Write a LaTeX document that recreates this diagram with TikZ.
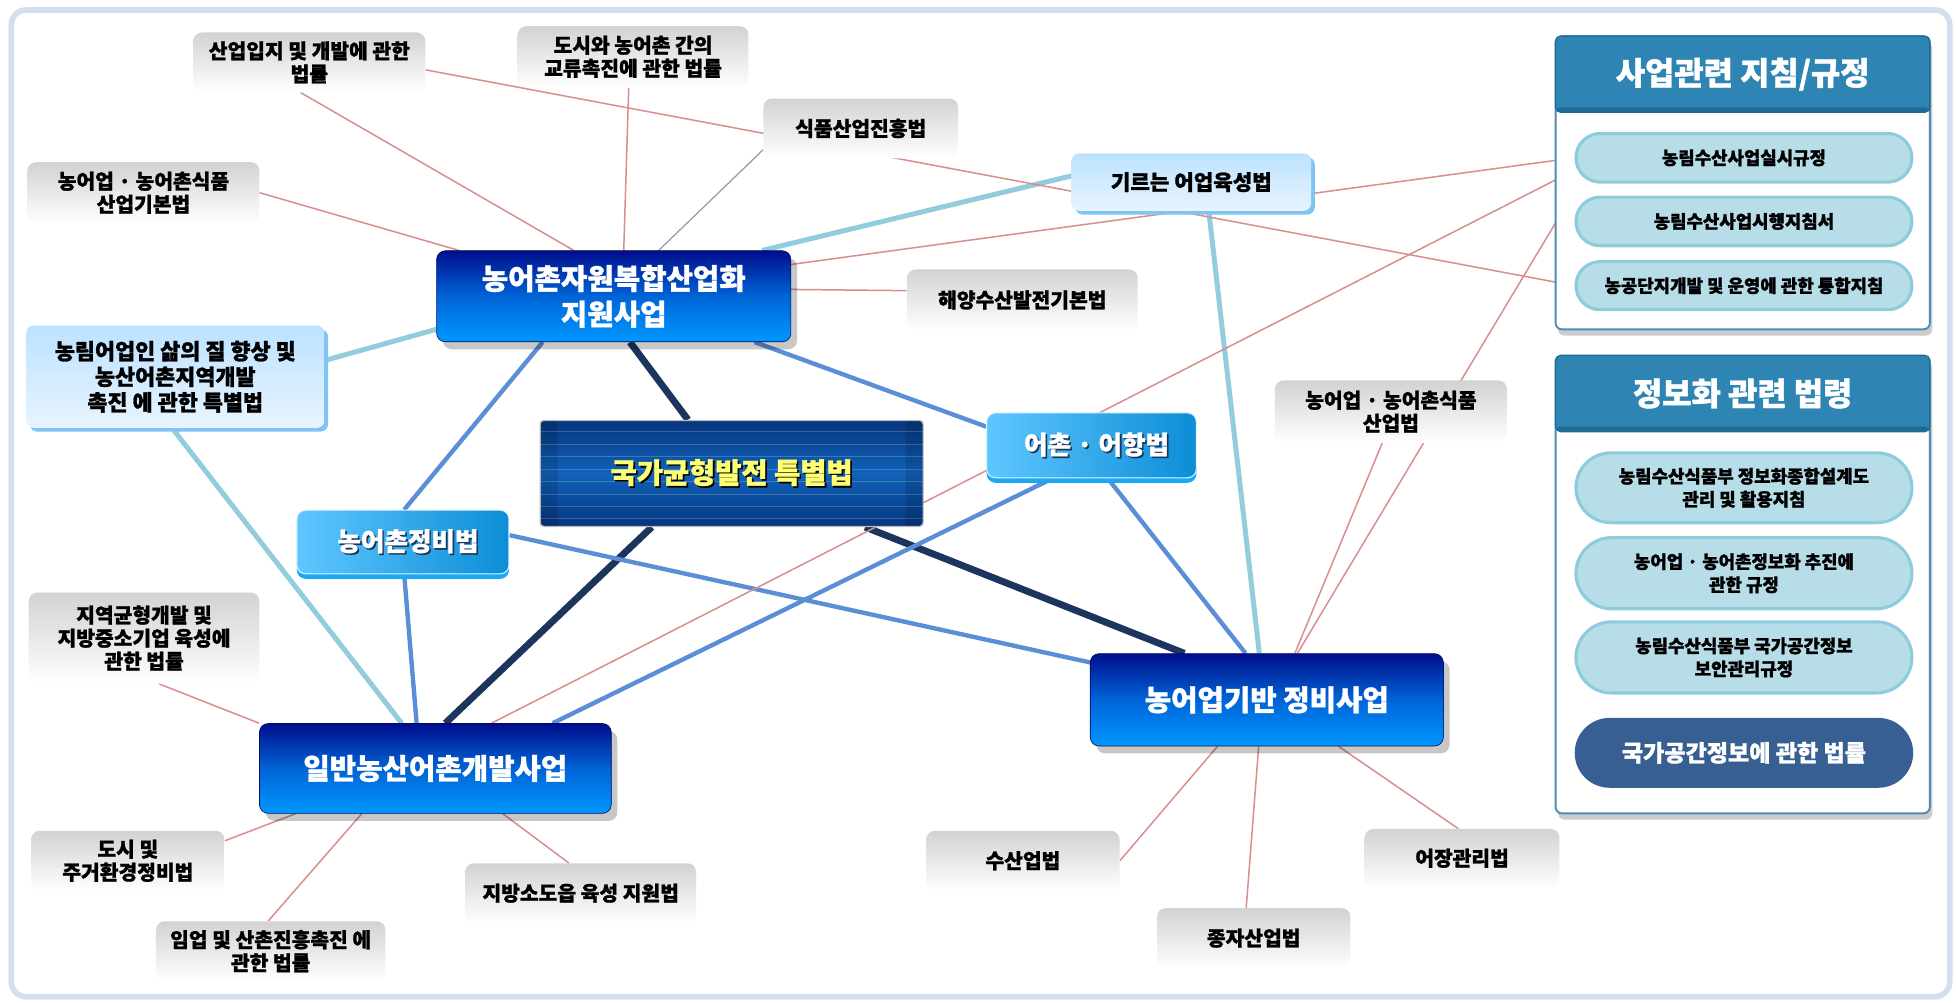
\documentclass[tikz,border=0pt]{standalone}
\usepackage{fontspec}
\newfontfamily\kr{Noto Sans CJK KR}[BoldFeatures={FakeBold=1.2}]
\usetikzlibrary{shadows,shapes.misc,calc}
\pgfdeclarelayer{bg}
\pgfdeclarelayer{lines}
\pgfsetlayers{bg,lines,main}
\definecolor{cFrame}{HTML}{D3DFEE}
\definecolor{cGrayTop}{HTML}{D2D2D2}
\definecolor{cNavyTop}{HTML}{000E8C}
\definecolor{cBlueMid}{HTML}{0064D6}
\definecolor{cBlueBot}{HTML}{0098FF}
\definecolor{cCenterDark}{HTML}{06357E}
\definecolor{cCenterMid}{HTML}{1062BA}
\definecolor{cYellow}{HTML}{FFFF73}
\definecolor{cBLeft}{HTML}{5FC7FF}
\definecolor{cBRight}{HTML}{0C8DD6}
\definecolor{cBLip}{HTML}{1AA8F2}
\definecolor{cLTop}{HTML}{BCE2FF}
\definecolor{cLBot}{HTML}{E8F4FF}
\definecolor{cLLip}{HTML}{80C4F4}
\definecolor{cHead}{HTML}{2E85B3}
\definecolor{cHeadDark}{HTML}{1F6B95}
\definecolor{cPanelBorder}{HTML}{4C8DB6}
\definecolor{cPill}{HTML}{B7DDE8}
\definecolor{cPillBorder}{HTML}{8ECBDD}
\definecolor{cDarkPill}{HTML}{385F91}
\definecolor{cNavyLine}{HTML}{1C355E}
\definecolor{cMidLine}{HTML}{5A8ED6}
\definecolor{cLightLine}{HTML}{93CCDC}
\definecolor{cPink}{HTML}{D98D8D}
\definecolor{cGrayLine}{HTML}{9C9C9C}
\newcommand\shadowtxt[3]{\leavevmode\rlap{\hspace{1.3pt}\raisebox{-1.3pt}{\textcolor{#2}{#1}}}\textcolor{#3}{#1}}
\begin{document}
\begin{tikzpicture}[x=1pt,y=-1pt,
  graybox/.style={rounded corners=7pt, top color=cGrayTop, bottom color=white, draw=none,
    align=center, inner sep=2pt, font=\kr\bfseries\fontsize{16.3}{18.5}\selectfont},
  mainbox/.style={rounded corners=7pt, top color=cNavyTop, bottom color=cBlueBot, middle color=cBlueMid,
    draw=cNavyTop!70!black, line width=0.5pt, text=white, align=center,
    font=\kr\bfseries\fontsize{23}{28.5}\selectfont,
    drop shadow={opacity=0.22, fill=black, shadow xshift=5pt, shadow yshift=-6pt}},
  centerbox/.style={rounded corners=3pt, top color=cCenterDark, bottom color=cCenterDark, middle color=cCenterMid,
    draw=gray!55, line width=1pt, align=center, font=\kr\bfseries\fontsize{22.8}{26}\selectfont},
  bluebox/.style={rounded corners=7pt, left color=cBLeft, right color=cBRight, draw=white!80!cBLeft, line width=0.8pt,
    text=white, align=center, font=\kr\bfseries\fontsize{20.5}{24}\selectfont,
    drop shadow={opacity=1, fill=cBLip, shadow xshift=0pt, shadow yshift=-4pt}},
  litebox/.style={rounded corners=6pt, top color=cLTop, bottom color=cLBot, draw=none,
    align=center, font=\kr\bfseries\fontsize{17.5}{20.5}\selectfont,
    drop shadow={opacity=1, fill=cLLip, shadow xshift=3pt, shadow yshift=-3pt}},
  panelbody/.style={rounded corners=5pt, fill=white, draw=cPanelBorder, line width=1.5pt,
    drop shadow={opacity=0.2, fill=black, shadow xshift=2pt, shadow yshift=-5pt}},
  panelhead/.style={rounded corners=4pt, fill=cHead, draw=cHeadDark, line width=1pt, text=white,
    font=\kr\bfseries\fontsize{25.5}{30}\selectfont,
    path picture={\fill[cHeadDark] ([yshift=4pt]path picture bounding box.south west) rectangle (path picture bounding box.south east);}},
  pill/.style={rounded rectangle, fill=cPill, draw=cPillBorder, line width=2.5pt, minimum width=276pt,
    align=center, font=\kr\bfseries\fontsize{14.3}{18.5}\selectfont},
  darkpill/.style={rounded rectangle, fill=cDarkPill, draw=cDarkPill, line width=1pt, minimum width=277pt,
    text=white, align=center, font=\kr\bfseries\fontsize{18.5}{22}\selectfont},
  navyline/.style={draw=cNavyLine, line width=5.5pt},
  midline/.style={draw=cMidLine, line width=3.5pt},
  lightline/.style={draw=cLightLine, line width=4pt},
  pinkline/.style={draw=cPink, line width=1.2pt},
  grayline/.style={draw=cGrayLine, line width=1pt}
]
\useasboundingbox (0,0) rectangle (1568,804);
\begin{pgfonlayer}{bg}
  \fill[white] (0,0) rectangle (1568,804);
  \draw[cFrame, line width=4.5pt, rounded corners=12pt] (9,8) rectangle (1563,799);
\end{pgfonlayer}

% gray label boxes
\node[graybox, minimum width=186pt, minimum height=48pt] (G1) at (248,50) {산업입지 및 개발에 관한\\법률};
\node[graybox, minimum width=185pt, minimum height=49pt] (G2) at (507.5,45.5) {도시와 농어촌 간의\\교류촉진에 관한 법률};
\node[graybox, minimum width=156pt, minimum height=48pt] (G3) at (690,103) {식품산업진흥법};
\node[graybox, minimum width=186pt, minimum height=49pt] (G4) at (115,154.5) {농어업 · 농어촌식품\\산업기본법};
\node[graybox, minimum width=185pt, minimum height=49pt] (G5) at (819.5,240.5) {해양수산발전기본법};
\node[graybox, minimum width=186pt, minimum height=50pt] (G6) at (1115,330) {농어업 · 농어촌식품\\산업법};
\node[graybox, minimum width=185pt, minimum height=73pt] (G7) at (115.5,511.5) {지역균형개발 및\\지방중소기업 육성에\\관한 법률};
\node[graybox, minimum width=155pt, minimum height=48pt] (G8) at (102.5,690) {도시 및\\주거환경정비법};
\node[graybox, minimum width=185pt, minimum height=48pt] (G9) at (465.5,716) {지방소도읍 육성 지원법};
\node[graybox, minimum width=184pt, minimum height=48pt] (G10) at (217,762.5) {임업 및 산촌진흥촉진 에\\관한 법률};
\node[graybox, minimum width=155pt, minimum height=48pt] (G11) at (820,690) {수산업법};
\node[graybox, minimum width=156pt, minimum height=47pt] (G12) at (1172,688) {어장관리법};
\node[graybox, minimum width=155pt, minimum height=48pt] (G13) at (1005,752) {종자산업법};

% main boxes
\node[mainbox, minimum width=284pt, minimum height=73pt] (M1) at (492,237.5) {농어촌자원복합산업화\\지원사업};
\node[mainbox, minimum width=282pt, minimum height=72pt] (M2) at (349,616) {일반농산어촌개발사업};
\node[mainbox, minimum width=283pt, minimum height=74pt] (M3) at (1015.5,561) {농어업기반 정비사업};

% centre box
\node[centerbox, minimum width=307pt, minimum height=85pt, path picture={
    \foreach \k in {9,19,...,79}
      \draw[white, opacity=0.2, line width=0.8pt] ([yshift=-\k*1pt]path picture bounding box.north west) -- ([yshift=-\k*1pt]path picture bounding box.north east);
    \fill[black, opacity=0.12] (path picture bounding box.north west) rectangle ([xshift=14pt]path picture bounding box.south west);
    \fill[black, opacity=0.12] ([xshift=-14pt]path picture bounding box.north east) rectangle (path picture bounding box.south east);
  }] (C) at (586.5,379.5) {\shadowtxt{국가균형발전 특별법}{black}{cYellow}};

% blue boxes
\node[bluebox, minimum width=170pt, minimum height=51pt] (B1) at (323,434.5) {\hspace*{8pt}\shadowtxt{농어촌정비법}{cNavyLine}{white}};
\node[bluebox, minimum width=168pt, minimum height=52pt] (B2) at (875,357) {\hspace*{8pt}\shadowtxt{어촌 · 어항법}{cNavyLine}{white}};

% light boxes
\node[litebox, minimum width=239pt, minimum height=82pt] (L1) at (140.5,302) {농림어업인 삶의 질 향상 및\\농산어촌지역개발\\촉진 에 관한 특별법};
\node[litebox, minimum width=192pt, minimum height=46pt, font=\kr\bfseries\fontsize{17}{20}\selectfont] (L2) at (955,146) {기르는 어업육성법};

% right panels
\node[panelbody, minimum width=300pt, minimum height=235pt] (P1) at (1397,146.5) {};
\node[panelhead, minimum width=300pt, minimum height=61pt] (H1) at (1397,59.5) {사업관련 지침/규정};
\node[pill, minimum height=39pt] (I1) at (1398,126.5) {농림수산사업실시규정};
\node[pill, minimum height=39pt] (I2) at (1398,177.5) {농림수산사업시행지침서};
\node[pill, minimum height=38.5pt] (I3) at (1398,229) {농공단지개발 및 운영에 관한 통합지침};

\node[panelbody, minimum width=300pt, minimum height=367pt] (P2) at (1397,468.5) {};
\node[panelhead, minimum width=300pt, minimum height=61pt] (H2) at (1397,315.5) {정보화 관련 법령};
\node[pill, minimum height=56pt] (J1) at (1398,391) {농림수산식품부 정보화종합설계도\\관리 및 활용지침};
\node[pill, minimum height=57pt] (J2) at (1398,459.5) {농어업 · 농어촌정보화 추진에\\관한 규정};
\node[pill, minimum height=57pt] (J3) at (1398,527) {농림수산식품부 국가공간정보\\보안관리규정};
\node[darkpill, minimum height=55pt] (J4) at (1398,603.5) {국가공간정보에 관한 법률};

% connectors
\begin{pgfonlayer}{lines}
  \draw[navyline] ([xshift=-35pt]C.north) -- ([xshift=13pt]M1.south);
  \draw[navyline] ([xshift=-64pt]C.south) -- ([xshift=8pt]M2.north);
  \draw[navyline] ([xshift=107pt]C.south) -- ([xshift=-66pt]M3.north);
  \draw[midline] ([xshift=-57pt]M1.south) -- ([xshift=1pt]B1.north);
  \draw[midline] ([xshift=1pt]B1.south) -- ([xshift=-15pt]M2.north);
  \draw[midline] ([xshift=113pt]M1.south) -- ([yshift=15pt]B2.west);
  \draw[midline] ([xshift=-31pt]B2.south) -- ([xshift=94pt]M2.north);
  \draw[midline] ([xshift=13pt]B2.south) -- ([xshift=-17pt]M3.north);
  \draw[midline] ([yshift=5.5pt]B1.east) -- ([yshift=30pt]M3.west);
  \draw[lightline] ([yshift=13pt]L1.east) -- ([yshift=-26.5pt]M1.west);
  \draw[lightline] ([xshift=-2.5pt]L1.south) -- ([xshift=-27pt]M2.north);
  \draw[lightline] ([yshift=5pt]L2.west) -- ([xshift=119pt]M1.north);
  \draw[lightline] ([xshift=14pt]L2.south) -- ([xshift=-6pt]M3.north);
  \draw[grayline] ([yshift=-17pt]G3.west) -- ([xshift=36pt]M1.north);
  \draw[pinkline] ([xshift=-7pt]G1.south) -- ([xshift=-32pt]M1.north);
  \draw[pinkline] ([yshift=-6pt]G1.east) -- (I3.west);
  \draw[pinkline] ([xshift=-3.5pt]G2.south) -- ([xshift=8pt]M1.north);
  \draw[pinkline] (G4.east) -- ([xshift=-124pt]M1.north);
  \draw[pinkline] ([yshift=25.5pt]M1.east) -- (I1.west);
  \draw[pinkline] ([yshift=5.5pt]M1.east) -- ([yshift=7.5pt]G5.west);
  \draw[pinkline] ([xshift=45pt]M2.north) -- ([yshift=-10pt]I1.west);
  \draw[pinkline] ([xshift=24.5pt]M3.north) -- ([yshift=-27pt]I1.west);
  \draw[pinkline] ([xshift=22.5pt]M3.north) -- ([xshift=-7pt]G6.south);
  \draw[pinkline] ([xshift=12pt]G7.south) -- (M2.north west);
  \draw[pinkline] ([xshift=-112pt]M2.south) -- ([yshift=16pt]G8.east);
  \draw[pinkline] ([xshift=-59pt]M2.south) -- ([xshift=-2pt]G10.north);
  \draw[pinkline] ([xshift=54pt]M2.south) -- ([xshift=-9.5pt]G9.north);
  \draw[pinkline] ([xshift=-39.5pt]M3.south) -- (G11.east);
  \draw[pinkline] ([xshift=-6.5pt]M3.south) -- ([xshift=-6pt]G13.north);
  \draw[pinkline] ([xshift=57.5pt]M3.south) -- ([xshift=-3pt]G12.north);
\end{pgfonlayer}
\end{tikzpicture}
\end{document}
